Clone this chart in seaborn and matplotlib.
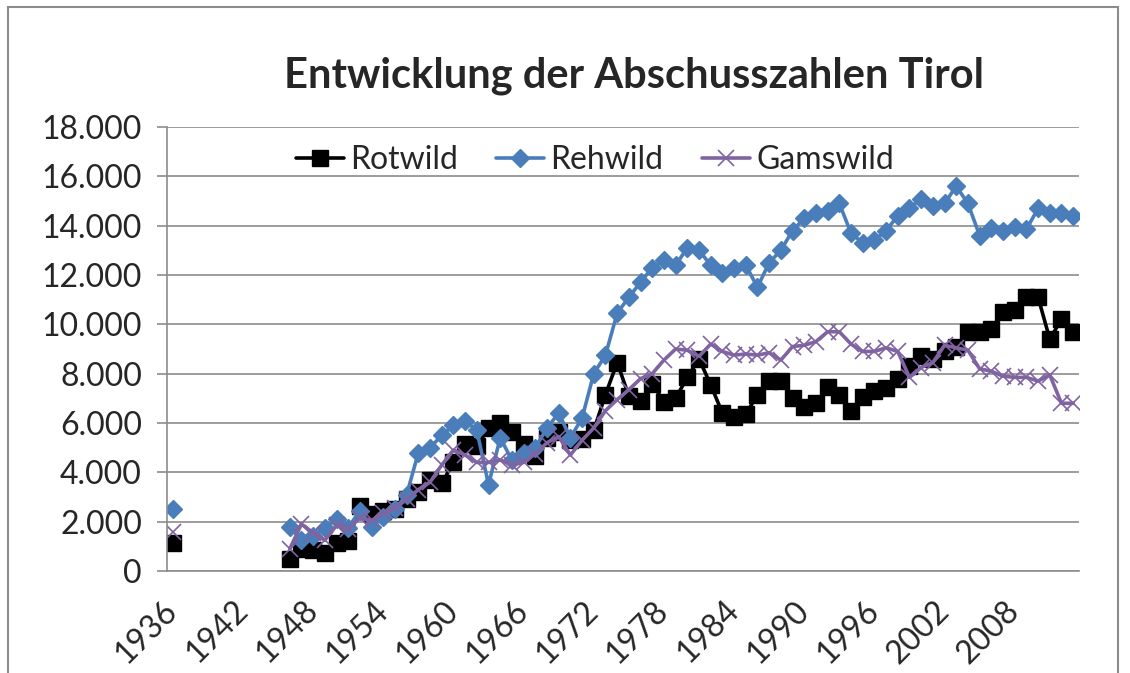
import pandas as pd
import numpy as np
import matplotlib.pyplot as plt
import seaborn as sns
from matplotlib.lines import Line2D
from matplotlib.patches import Rectangle
from matplotlib.ticker import FuncFormatter

# Single early value, then the series from 1946 on
years_early = [1936]
rot_early = [1150]
reh_early = [2500]
gams_early = [1600]

years = list(range(1946, 2014))

rotwild = [500, 900, 850, 750, 1150, 1200, 2650, 2300, 2450, 2500,
           2900, 3200, 3700, 3550, 4400, 5150, 5050, 5800, 6000, 5650,
           5150, 4650, 5400, 5650, 5300, 5350, 5700, 7150, 8450, 7100,
           6900, 7600, 6850, 7000, 7850, 8600, 7550, 6400, 6250, 6350,
           7150, 7700, 7700, 7000, 6650, 6800, 7450, 7150, 6500, 7050,
           7300, 7400, 7800, 8300, 8700, 8600, 8900, 9100, 9700, 9700,
           9800, 10500, 10600, 11100, 11100, 9400, 10200, 9700]

rehwild = [1800, 1250, 1400, 1750, 2100, 1750, 2450, 1800, 2200, 2500,
           3100, 4800, 5000, 5500, 5900, 6100, 5700, 3500, 5400, 4500,
           4800, 5000, 5800, 6400, 5400, 6200, 8000, 8750, 10450, 11100,
           11700, 12300, 12600, 12400, 13100, 13000, 12400, 12100, 12300, 12400,
           11500, 12500, 13000, 13800, 14300, 14500, 14600, 14900, 13700, 13300,
           13400, 13800, 14400, 14700, 15100, 14800, 14900, 15600, 14900, 13600,
           13900, 13800, 13950, 13850, 14700, 14500, 14500, 14400]

gamswild = [900, 1900, 1550, 1250, 1850, 1700, 2150, 2050, 2350, 2550,
            2900, 3300, 3600, 4300, 4900, 4700, 4400, 4400, 4500, 4300,
            4400, 4750, 5200, 5450, 4700, 5300, 5800, 6500, 6950, 7350,
            7800, 8000, 8550, 9000, 8950, 8700, 9200, 8900, 8750, 8800,
            8750, 8850, 8550, 9100, 9150, 9300, 9700, 9700, 9200, 8900,
            8900, 9050, 8900, 7850, 8250, 8450, 9150, 9050, 8950, 8200,
            8100, 7900, 7850, 7850, 7700, 7950, 6800, 6800]

series = {
    'Rotwild': (rot_early, rotwild, '#000000', 's', 12, 1.0),
    'Rehwild': (reh_early, rehwild, '#4A7EBB', 'D', 9.5, 1.0),
    'Gamswild': (gams_early, gamswild, '#8064A2', 'x', 11, 1.2),
}

rows = []
for name, (early, vals, *_rest) in series.items():
    for y, v in zip(years_early, early):
        rows.append({'Jahr': y, 'Abschuss': v, 'Art': name, 'seg': 0})
    for y, v in zip(years, vals):
        rows.append({'Jahr': y, 'Abschuss': v, 'Art': name, 'seg': 1})
df = pd.DataFrame(rows)

sns.set_style('white')
plt.rcParams['font.family'] = ['Lato', 'DejaVu Sans']

fig = plt.figure(figsize=(11.3, 6.73), dpi=100)
ax = fig.add_axes([167 / 1130, 1 - 571 / 673, (1079 - 167) / 1130, (571 - 127) / 673])

grid_c = '#8C8C8C'
handles = []
for name, (early, vals, color, marker, ms, mew) in series.items():
    sub = df[df['Art'] == name]
    sns.lineplot(data=sub, x='Jahr', y='Abschuss', units='seg', estimator=None,
                 color=color, marker=marker, markersize=ms, linewidth=2.6,
                 markeredgewidth=mew, markeredgecolor=color, ax=ax, legend=False)
    handles.append(Line2D([], [], color=color, marker=marker, markersize=ms,
                          linewidth=2.6, markeredgewidth=mew, label=name))

ax.set_xlim(1935.5, 2013.5)
ax.set_ylim(0, 18000)
ax.set_yticks(np.arange(0, 18001, 2000))
ax.yaxis.set_major_formatter(FuncFormatter(lambda v, p: f'{int(v):,}'.replace(',', '.')))
ax.grid(axis='y', color=grid_c, linewidth=1.2)
ax.set_axisbelow(True)

label_years = list(range(1936, 2013, 6))
ax.set_xticks(label_years)
ax.set_xticklabels([str(y) for y in label_years], rotation=45, ha='right', va='center',
                   rotation_mode='anchor', fontsize=23)
ax.set_xticks(np.arange(1935.5, 2014, 1), minor=True)
ax.tick_params(axis='x', which='major', length=0, pad=25)
ax.tick_params(axis='x', which='minor', length=6, width=1.2, color=grid_c, direction='out')
ax.tick_params(axis='y', length=7, width=1.2, color=grid_c, labelsize=23, pad=11, left=True)

for side in ['top', 'right']:
    ax.spines[side].set_visible(False)
for side in ['left', 'bottom']:
    ax.spines[side].set_color(grid_c)
    ax.spines[side].set_linewidth(1.2)

ax.set_xlabel('')
ax.set_ylabel('')

leg = ax.legend(handles=handles, loc='upper center', bbox_to_anchor=(0.469, 0.995), ncol=3,
                frameon=False, fontsize=23, handlelength=1.5, handletextpad=0.2,
                columnspacing=1.2, borderaxespad=0.1)

fig.text(634 / 1130, 1 - 76 / 673, 'Entwicklung der Abschusszahlen Tirol',
         ha='center', va='center', fontsize=30, fontweight='bold')

fig.patches.append(Rectangle((8 / 1130, -0.05), (1118 - 8) / 1130, 1.05 - 7 / 673,
                             transform=fig.transFigure, fill=False,
                             edgecolor='#8C8C8C', linewidth=1.5))

plt.savefig('out.png', dpi=100)
plt.close()
